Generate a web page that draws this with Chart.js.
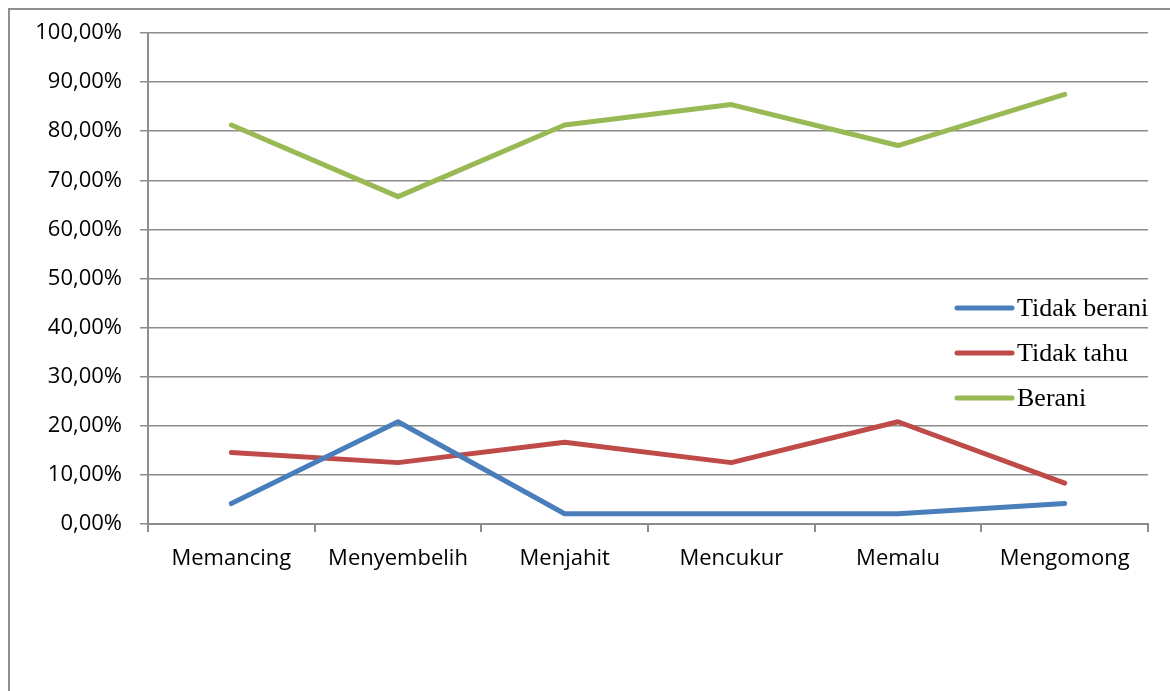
<!DOCTYPE html>
<html lang="id">
<head>
  <meta charset="UTF-8" />
  <title>Grafik persentase</title>
  <script src="https://cdn.jsdelivr.net/npm/chart.js"></script>
  <style>
    body {
      margin: 0;
      background: #ffffff;
      overflow: hidden;
    }
    .wrap {
      position: relative;
      width: 1170px;
      height: 691px;
    }
    .frame {
      position: absolute;
      left: 8px;
      top: 8px;
      width: 1300px;
      height: 900px;
      border: 2px solid #8f8f8f;
    }
    #grafik {
      position: absolute;
      left: 0;
      top: 0;
    }
  </style>
</head>
<body>
  <div class="wrap">
    <div class="frame"></div>
    <canvas id="grafik" width="1170" height="691"></canvas>
  </div>

  <script>
    // data
    const kategori = ['Memancing', 'Menyembelih', 'Menjahit', 'Mencukur', 'Memalu', 'Mengomong'];
    const tidakBerani = [4.17, 20.83, 2.08, 2.08, 2.08, 4.17];
    const tidakTahu = [14.58, 12.5, 16.67, 12.5, 20.83, 8.33];
    const berani = [81.25, 66.67, 81.25, 85.42, 77.08, 87.5];
    const labelY = ['0,00%', '10,00%', '20,00%', '30,00%', '40,00%', '50,00%',
                    '60,00%', '70,00%', '80,00%', '90,00%', '100,00%'];

    const abu = '#8c8c8c';
    const fontSumbu = { family: "'Open Sans', 'Liberation Sans', sans-serif", size: 22 };

    // legenda di sisi kanan, di atas area plot
    const legendaKanan = {
      id: 'legendaKanan',
      afterDraw(chart) {
        const ctx = chart.ctx;
        const x0 = 957, x1 = 1012, yAwal = 308, jarak = 45;
        ctx.save();
        ctx.font = "26px 'Liberation Serif', 'Times New Roman', serif";
        ctx.textBaseline = 'middle';
        chart.data.datasets.forEach((ds, i) => {
          const y = yAwal + i * jarak;
          ctx.strokeStyle = ds.borderColor;
          ctx.lineWidth = 5;
          ctx.lineCap = 'round';
          ctx.beginPath();
          ctx.moveTo(x0, y);
          ctx.lineTo(x1, y);
          ctx.stroke();
          ctx.fillStyle = '#000';
          ctx.fillText(ds.label, x1 + 5, y + 1);
        });
        ctx.restore();
      }
    };

    const garis = (label, data, warna) => ({
      label: label,
      data: data,
      borderColor: warna,
      backgroundColor: warna,
      borderWidth: 5,
      pointRadius: 0,
      tension: 0,
      borderCapStyle: 'round',
      borderJoinStyle: 'round'
    });

    new Chart(document.getElementById('grafik'), {
      type: 'line',
      data: {
        labels: kategori,
        datasets: [
          garis('Tidak berani', tidakBerani, '#4a7ebb'),
          garis('Tidak tahu', tidakTahu, '#be4b48'),
          garis('Berani', berani, '#98b954')
        ]
      },
      options: {
        responsive: false,
        animation: false,
        layout: { padding: { top: 33, right: 22, left: 0, bottom: 0 } },
        plugins: {
          legend: { display: false },
          tooltip: { enabled: false }
        },
        scales: {
          x: {
            offset: true,
            afterFit: (s) => { s.height = 167; },
            grid: {
              offset: true,
              drawOnChartArea: false,
              color: abu,
              lineWidth: 2,
              tickLength: 8
            },
            border: { color: abu, width: 2 },
            ticks: { color: '#000', font: fontSumbu, padding: 14, maxRotation: 0 }
          },
          y: {
            min: 0,
            max: 100,
            afterFit: (s) => { s.width = 148; },
            grid: { color: abu, lineWidth: 1.5, tickLength: 8 },
            border: { color: abu, width: 2 },
            ticks: {
              stepSize: 10,
              color: '#000',
              font: fontSumbu,
              padding: 18,
              callback: (v, i) => labelY[i]
            }
          }
        }
      },
      plugins: [legendaKanan]
    });
  </script>
</body>
</html>
